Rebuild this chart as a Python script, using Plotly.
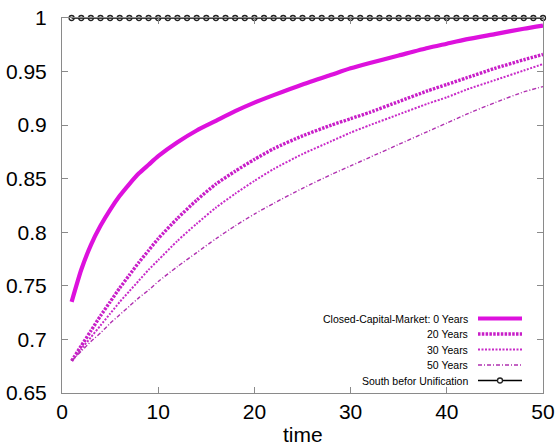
import plotly.graph_objects as go

# ---------------- data ----------------
time = [1, 2, 3, 4, 5, 6, 7, 8, 9, 10, 12, 14, 16, 18, 20, 22, 25, 28, 30,
        32, 35, 38, 40, 42, 45, 48, 50]

closed_0y = [0.735, 0.765, 0.788, 0.806, 0.821, 0.834, 0.845, 0.855, 0.863,
             0.871, 0.884, 0.895, 0.904, 0.913, 0.921, 0.928, 0.938, 0.947,
             0.953, 0.958, 0.965, 0.972, 0.976, 0.980, 0.985, 0.990, 0.993]

years_20 = [0.680, 0.694, 0.708, 0.722, 0.735, 0.748, 0.760, 0.772, 0.783,
            0.794, 0.813, 0.830, 0.845, 0.857, 0.868, 0.878, 0.890, 0.900,
            0.906, 0.912, 0.922, 0.932, 0.938, 0.944, 0.953, 0.961, 0.966]

years_30 = [0.680, 0.691, 0.702, 0.713, 0.724, 0.735, 0.745, 0.755, 0.765,
            0.774, 0.792, 0.808, 0.823, 0.836, 0.848, 0.859, 0.873, 0.885,
            0.893, 0.900, 0.910, 0.920, 0.926, 0.933, 0.942, 0.951, 0.957]

years_50 = [0.680, 0.689, 0.698, 0.706, 0.715, 0.723, 0.731, 0.739, 0.746,
            0.754, 0.768, 0.781, 0.794, 0.806, 0.817, 0.827, 0.841, 0.854,
            0.862, 0.870, 0.882, 0.894, 0.902, 0.910, 0.921, 0.931, 0.936]

time_south = [1, 2, 3, 4, 5, 6, 7, 8, 9, 10, 11, 12, 13, 14, 15, 16, 17, 18,
              19, 20, 21, 22, 23, 24, 25, 26, 27, 28, 29, 30, 31, 32, 33, 34,
              35, 36, 37, 38, 39, 40, 41, 42, 43, 44, 45, 46, 47, 48, 49, 50]
south = [1.0, 1.0, 1.0, 1.0, 1.0, 1.0, 1.0, 1.0, 1.0, 1.0, 1.0, 1.0, 1.0,
         1.0, 1.0, 1.0, 1.0, 1.0, 1.0, 1.0, 1.0, 1.0, 1.0, 1.0, 1.0, 1.0,
         1.0, 1.0, 1.0, 1.0, 1.0, 1.0, 1.0, 1.0, 1.0, 1.0, 1.0, 1.0, 1.0,
         1.0, 1.0, 1.0, 1.0, 1.0, 1.0, 1.0, 1.0, 1.0, 1.0, 1.0]

legend_labels = ["Closed-Capital-Market: 0 Years", "20 Years", "30 Years",
                 "50 Years", "South befor Unification"]

x_ticks = [0, 10, 20, 30, 40, 50]
y_ticks = [0.65, 0.7, 0.75, 0.8, 0.85, 0.9, 0.95, 1.0]
y_tick_text = ["0.65", "0.7", "0.75", "0.8", "0.85", "0.9", "0.95", "1"]
x_title = "time"

# ---------------- styles ----------------
W, H = 555, 448
ML, MR, MT, MB = 62, 12, 18, 55
PW, PH = W - ML - MR, H - MT - MB
MAG = "#dd11dd"
styles = [
    dict(color=MAG, width=4.2, dash="solid"),
    dict(color="#c81ec8", width=3.4, dash="2.5px,1.3px"),
    dict(color="#c82ac8", width=2.0, dash="2px,1.5px"),
    dict(color="#b030b0", width=1.4, dash="4px,2px,1px,2px"),
]
FONT = "Liberation Sans, Arial, sans-serif"

fig = go.Figure()
for ys, st, name in zip([closed_0y, years_20, years_30, years_50], styles, legend_labels):
    fig.add_trace(go.Scatter(x=time, y=ys, mode="lines", name=name,
                             line=dict(color=st["color"], width=st["width"], dash=st["dash"],
                                       shape="spline", smoothing=0.6),
                             showlegend=False))
fig.add_trace(go.Scatter(x=time_south, y=south, mode="lines+markers",
                         name=legend_labels[4], cliponaxis=False,
                         line=dict(color="black", width=1.3),
                         marker=dict(symbol="circle-open", size=5, color="#222",
                                     line=dict(width=1.3)),
                         showlegend=False))

# ---------------- manual legend (text left, sample right) ----------------
def px_to_paper(px, py):
    return (px - ML) / PW, (MT + PH - py) / PH

rows_y = [318.5, 334, 349.5, 365, 380.5]
text_right = 470
samp_x0, samp_x1 = 478, 522
annotations = []
shapes = []
for i, (lab, ry) in enumerate(zip(legend_labels, rows_y)):
    tx, ty = px_to_paper(text_right, ry)
    annotations.append(dict(x=tx, y=ty, xref="paper", yref="paper", text=lab,
                            showarrow=False, xanchor="right", yanchor="middle",
                            font=dict(family=FONT, size=10.5, color="black")))
    x0, yy = px_to_paper(samp_x0, ry)
    x1, _ = px_to_paper(samp_x1, ry)
    if i < 4:
        st = styles[i]
        shapes.append(dict(type="line", xref="paper", yref="paper", x0=x0, x1=x1,
                           y0=yy, y1=yy,
                           line=dict(color=st["color"], width=st["width"], dash=st["dash"])))
    else:
        shapes.append(dict(type="line", xref="paper", yref="paper", x0=x0, x1=x1,
                           y0=yy, y1=yy, line=dict(color="black", width=1.3)))
        cx = (samp_x0 + samp_x1) / 2
        a0, b0 = px_to_paper(cx - 2.5, ry + 2.5)
        a1, b1 = px_to_paper(cx + 2.5, ry - 2.5)
        shapes.append(dict(type="circle", xref="paper", yref="paper", x0=a0, x1=a1,
                           y0=b0, y1=b1, fillcolor="white",
                           line=dict(color="#222", width=1.3)))

# x-axis title placed as text under the tick labels
ttx, tty = px_to_paper(ML + PW / 2, 434)
annotations.append(dict(x=ttx, y=tty, xref="paper", yref="paper", text=x_title,
                        showarrow=False, xanchor="center", yanchor="middle",
                        font=dict(family=FONT, size=21, color="black")))

axis_common = dict(showgrid=False, zeroline=False, showline=True, linecolor="#8a8a8a",
                   linewidth=1, mirror="ticks", ticks="inside", ticklen=6,
                   tickcolor="#8a8a8a", automargin=False,
                   tickfont=dict(family=FONT, size=21, color="black"))

fig.update_layout(
    width=W, height=H, margin=dict(l=ML, r=MR, t=MT, b=MB),
    plot_bgcolor="white", paper_bgcolor="white",
    xaxis=dict(range=[0, 50], tickvals=x_ticks, ticklabelstandoff=0, **axis_common),
    yaxis=dict(range=[0.65, 1.0], tickvals=y_ticks, ticktext=y_tick_text,
               ticklabelstandoff=10, **axis_common),
    annotations=annotations, shapes=shapes, showlegend=False,
)

fig.write_html("out.html")
